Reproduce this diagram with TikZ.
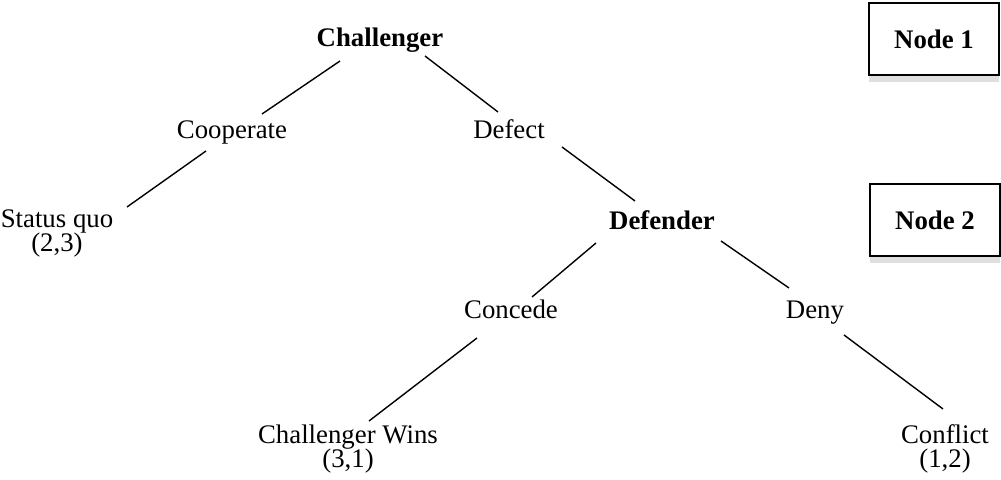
\documentclass[tikz,border=0pt]{standalone}
\usepackage{fontspec}
\setmainfont{Liberation Serif}
\usetikzlibrary{shadows}
\newcommand\gamefont{\fontsize{13.4}{12}\selectfont\lineskiplimit=-6pt\relax}

\begin{document}
\begin{tikzpicture}[x=0.5pt, y=-0.5pt,
        move/.style={font=\gamefont, align=center, inner sep=2pt, anchor=base},
        player/.style={move, font=\gamefont\bfseries},
        stage/.style={draw, line width=1pt, minimum width=65pt, minimum height=36pt, fill=white, drop shadow={shadow xshift=0pt, shadow yshift=-3.5pt, opacity=0.25}, font=\gamefont\bfseries},
        branch/.style={line width=0.7pt}
    ]
    \useasboundingbox (0,0) rectangle (1001,480);
    \node[player] (chal) at (380,47) {Challenger};
    \node[move] (coop) at (232,139) {Cooperate};
    \node[move] (defect) at (509,139) {Defect};
    \node[move] (quo) at (57,252) {Status quo\\(2,3)};
    \node[player] (def) at (662,230) {Defender};
    \node[move] (concede) at (511,319) {Concede};
    \node[move] (deny) at (815,319) {Deny};
    \node[move] (wins) at (348,467) {Challenger Wins\\(3,1)};
    \node[move] (conflict) at (945,467) {Conflict\\(1,2)};
    \node[stage] (node1) at (934,39) {Node 1};
    \node[stage] (node2) at (935,220) {Node 2};

    \draw[branch] ([shift={(-40,14)}]chal.base) -- ([shift={(30,-25)}]coop.base);
    \draw[branch] ([shift={(45,9)}]chal.base) -- ([shift={(-11,-27)}]defect.base);
    \draw[branch] ([shift={(-26,12)}]coop.base) -- ([shift={(70,-45)}]quo.base);
    \draw[branch] ([shift={(53,8)}]defect.base) -- ([shift={(-27,-29)}]def.base);
    \draw[branch] ([shift={(-66,13)}]def.base) -- ([shift={(21,-22)}]concede.base);
    \draw[branch] ([shift={(59,11)}]def.base) -- ([shift={(-26,-31)}]deny.base);
    \draw[branch] ([shift={(-34,19)}]concede.base) -- ([shift={(21,-46)}]wins.base);
    \draw[branch] ([shift={(29,16)}]deny.base) -- ([shift={(-2,-58)}]conflict.base);
\end{tikzpicture}
\end{document}
